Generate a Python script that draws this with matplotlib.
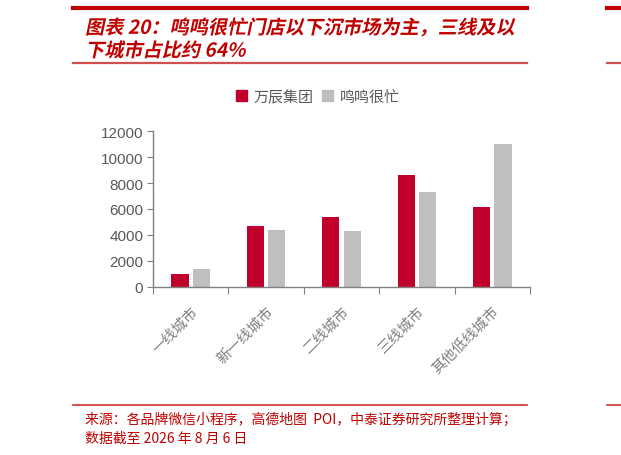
import numpy as np
import matplotlib
matplotlib.use('Agg')
import matplotlib.pyplot as plt
from matplotlib.lines import Line2D
from matplotlib.patches import Patch
from matplotlib.patheffects import AbstractPathEffect
from matplotlib.transforms import Affine2D

plt.rcParams['font.family'] = ['Noto Sans CJK SC', 'DejaVu Sans']

# Data
categories = ['一线城市', '新一线城市', '二线城市', '三线城市', '其他低线城市']
wanchen = [1000, 4700, 5400, 8600, 6150]
mingming = [1380, 4400, 4300, 7270, 10980]
series_names = ['万辰集团', '鸣鸣很忙']
yticks = [0, 2000, 4000, 6000, 8000, 10000, 12000]

title_lines = ['图表 20：鸣鸣很忙门店以下沉市场为主，三线及以', '下城市占比约 64%']
source_lines = ['来源：各品牌微信小程序，高德地图  POI，中泰证券研究所整理计算；',
                '数据截至 2026 年 8 月 6 日']

RED = '#C0002A'
GRAY = '#BFBFBF'
TXT = '#595959'
HEAD = '#C00000'


class Skew(AbstractPathEffect):
    """fake italic for fonts without an italic face"""
    def __init__(self, angle=12):
        super().__init__()
        self.angle = angle

    def draw_path(self, renderer, gc, tpath, affine, rgbFace=None):
        m = affine.get_matrix().copy()
        tx, ty = m[0, 2], m[1, 2]
        m[0, 2] = 0
        m[1, 2] = 0
        new = Affine2D(m).skew_deg(self.angle, 0).translate(tx, ty)
        renderer.draw_path(gc, tpath, new, rgbFace)


fig = plt.figure(figsize=(6.21, 4.56), dpi=100)
W, H = 621, 456


def fx(px):
    return px / W


def fy(py):
    return 1 - py / H


# header / footer rules
for y, lw, c in [(8.5, 3.0, HEAD), (64, 1.6, '#D05050'), (406, 1.2, '#D03030')]:
    for x0, x1 in [(73, 527), (607, 621)]:
        fig.add_artist(Line2D([fx(x0), fx(x1)], [fy(y), fy(y)], lw=lw, color=c,
                              transform=fig.transFigure))

for i, t in enumerate(title_lines):
    fig.text(fx(85), fy(29 + 23 * i), t, color=HEAD, fontsize=13.8,
             fontweight='bold', va='center', ha='left',
             path_effects=[Skew(12)])

for i, t in enumerate(source_lines):
    fig.text(fx(85), fy(420 + 19 * i), t, color=HEAD, fontsize=10,
             va='center', ha='left')

ax = fig.add_axes([fx(153), fy(288), fx(530) - fx(153), fy(132) - fy(288)])

x = np.arange(len(categories))
bw = 0.23
off = 0.142
ax.bar(x - off, wanchen, bw, color=RED, label=series_names[0])
ax.bar(x + off, mingming, bw, color=GRAY, label=series_names[1])

ax.set_xlim(-0.5, len(categories) - 0.5)
ax.set_ylim(0, 12000)
ax.set_yticks(yticks)
ax.set_yticklabels([str(v) for v in yticks], family=['Liberation Sans', 'DejaVu Sans'],
                   fontsize=11, color=TXT)

ax.set_xticks(np.arange(len(categories) + 1) - 0.5)
ax.set_xticklabels([])
ax.set_xticks(x, minor=True)
ax.set_xticklabels(categories, minor=True, rotation=45, ha='right',
                   rotation_mode='anchor', fontsize=10.5, color='#7F7F7F')
ax.tick_params(axis='x', which='minor', length=0, pad=12)
ax.tick_params(axis='x', which='major', length=5, color='#808080', direction='out')
ax.tick_params(axis='y', length=4, color='#808080', pad=3)

for s in ['top', 'right']:
    ax.spines[s].set_visible(False)
for s in ['left', 'bottom']:
    ax.spines[s].set_color('#808080')
    ax.spines[s].set_linewidth(1.0)

handles = [Patch(color=RED), Patch(color=GRAY)]
fig.legend(handles, series_names, loc='center', bbox_to_anchor=(fx(318), fy(98)),
           ncol=2, frameon=False, fontsize=10.8, labelcolor=TXT,
           handlelength=0.75, handleheight=0.75, handletextpad=0.45, columnspacing=0.55)

fig.savefig('out.png', dpi=100)
